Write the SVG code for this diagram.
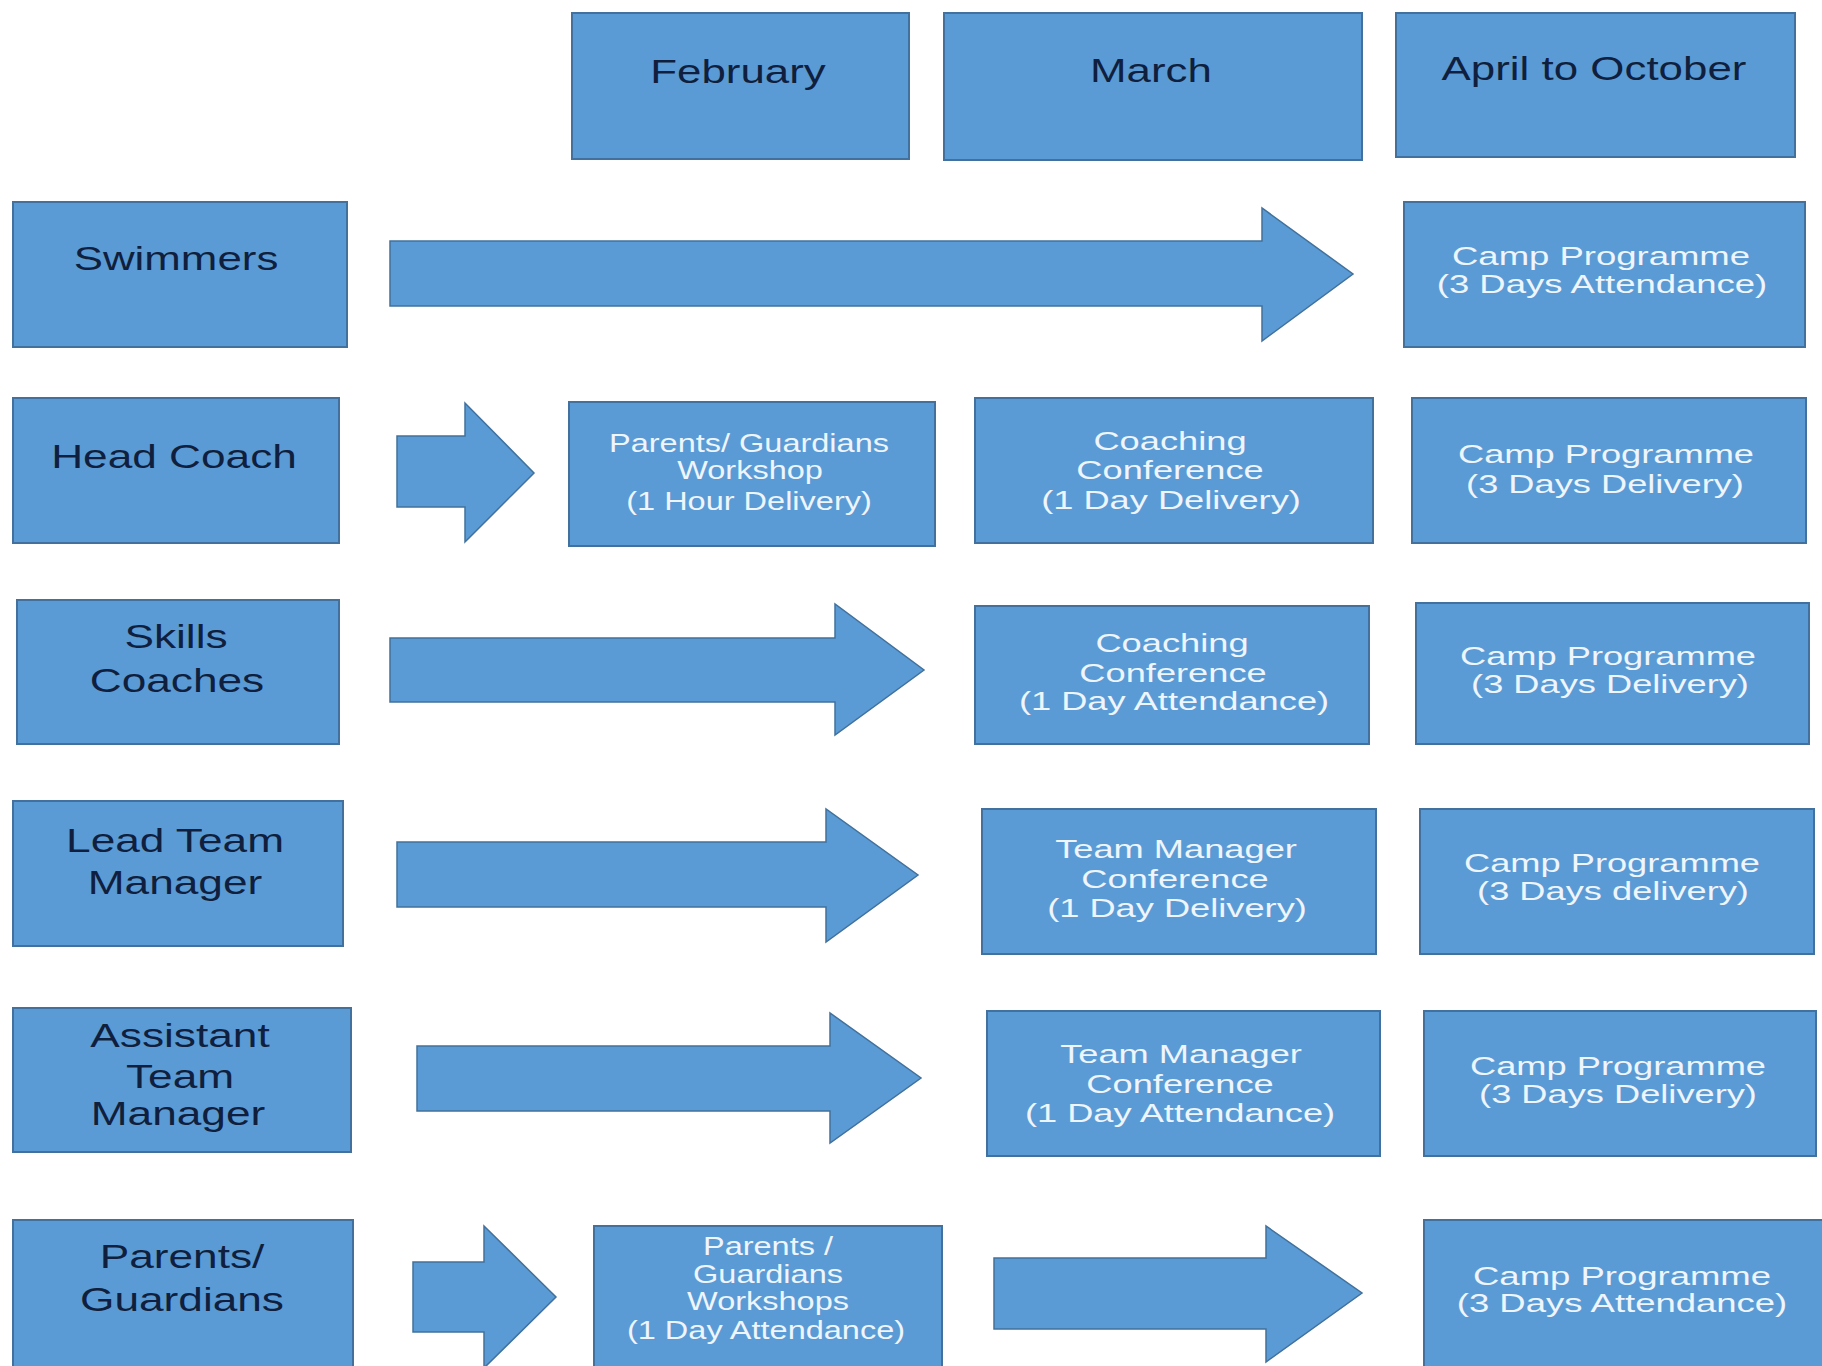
<svg xmlns="http://www.w3.org/2000/svg" width="1822" height="1366" viewBox="0 0 1822 1366">
<defs>
<style>
.box{fill:#5b9bd5;stroke:#41719c;stroke-width:2}
.arr{fill:#5b9bd5;stroke:#41719c;stroke-width:1.5;stroke-linejoin:miter}
.dk{font-family:"Liberation Sans",Arial,sans-serif;font-size:33px;fill:#0f1f3d;text-anchor:middle}
.wt{font-family:"Liberation Sans",Arial,sans-serif;font-size:25px;fill:#eef5fc;text-anchor:middle}
</style>
</defs>
<rect width="1822" height="1366" fill="#ffffff"/>

<g id="connectors">
<polygon class="arr" points="390,241 1262,241 1262,208 1353,274 1262,341 1262,306 390,306"/>
<polygon class="arr" points="397,436 465,436 465,403 534,473 465,542 465,507 397,507"/>
<polygon class="arr" points="390,638 835,638 835,604 924,670 835,735 835,702 390,702"/>
<polygon class="arr" points="397,842 826,842 826,809 918,875 826,942 826,907 397,907"/>
<polygon class="arr" points="417,1046 830,1046 830,1013 921,1078 830,1143 830,1111 417,1111"/>
<polygon class="arr" points="413,1262 484,1262 484,1226 556,1297 484,1368 484,1332 413,1332"/>
<polygon class="arr" points="994,1258 1266,1258 1266,1226 1362,1293 1266,1362 1266,1329 994,1329"/>
</g>

<g id="february">
<rect class="box" x="572" y="13" width="337" height="146"/>
<text class="dk" transform="translate(738,83) scale(1.33,1)">February</text>
</g>
<g id="march">
<rect class="box" x="944" y="13" width="418" height="147"/>
<text class="dk" transform="translate(1151,82) scale(1.33,1)">March</text>
</g>
<g id="april-october">
<rect class="box" x="1396" y="13" width="399" height="144"/>
<text class="dk" transform="translate(1594,80) scale(1.33,1)">April to October</text>
</g>

<g id="swimmers">
<rect class="box" x="13" y="202" width="334" height="145"/>
<text class="dk" transform="translate(176,270) scale(1.33,1)">Swimmers</text>
</g>
<g id="swimmers-camp">
<rect class="box" x="1404" y="202" width="401" height="145"/>
<text class="wt" transform="translate(1601,265) scale(1.46,1)">Camp Programme</text>
<text class="wt" transform="translate(1602,293) scale(1.46,1)">(3 Days Attendance)</text>
</g>

<g id="head-coach">
<rect class="box" x="13" y="398" width="326" height="145"/>
<text class="dk" transform="translate(174,468) scale(1.34,1)">Head Coach</text>
</g>
<g id="head-coach-workshop">
<rect class="box" x="569" y="402" width="366" height="144"/>
<text class="wt" transform="translate(749,452) scale(1.3,1)">Parents/ Guardians</text>
<text class="wt" transform="translate(750,479) scale(1.3,1)">Workshop</text>
<text class="wt" transform="translate(749,510) scale(1.3,1)">(1 Hour Delivery)</text>
</g>
<g id="head-coach-conference">
<rect class="box" x="975" y="398" width="398" height="145"/>
<text class="wt" transform="translate(1170,450) scale(1.45,1)">Coaching</text>
<text class="wt" transform="translate(1170,479) scale(1.45,1)">Conference</text>
<text class="wt" transform="translate(1171,509) scale(1.45,1)">(1 Day Delivery)</text>
</g>
<g id="head-coach-camp">
<rect class="box" x="1412" y="398" width="394" height="145"/>
<text class="wt" transform="translate(1606,463) scale(1.45,1)">Camp Programme</text>
<text class="wt" transform="translate(1605,493) scale(1.45,1)">(3 Days Delivery)</text>
</g>

<g id="skills-coaches">
<rect class="box" x="17" y="600" width="322" height="144"/>
<text class="dk" transform="translate(176,648) scale(1.34,1)">Skills</text>
<text class="dk" transform="translate(177,692) scale(1.34,1)">Coaches</text>
</g>
<g id="skills-conference">
<rect class="box" x="975" y="606" width="394" height="138"/>
<text class="wt" transform="translate(1172,652) scale(1.45,1)">Coaching</text>
<text class="wt" transform="translate(1173,682) scale(1.45,1)">Conference</text>
<text class="wt" transform="translate(1174,710) scale(1.45,1)">(1 Day Attendance)</text>
</g>
<g id="skills-camp">
<rect class="box" x="1416" y="603" width="393" height="141"/>
<text class="wt" transform="translate(1608,665) scale(1.45,1)">Camp Programme</text>
<text class="wt" transform="translate(1610,693) scale(1.45,1)">(3 Days Delivery)</text>
</g>

<g id="lead-team-manager">
<rect class="box" x="13" y="801" width="330" height="145"/>
<text class="dk" transform="translate(175,852) scale(1.34,1)">Lead Team</text>
<text class="dk" transform="translate(175,894) scale(1.34,1)">Manager</text>
</g>
<g id="lead-conference">
<rect class="box" x="982" y="809" width="394" height="145"/>
<text class="wt" transform="translate(1176,858) scale(1.45,1)">Team Manager</text>
<text class="wt" transform="translate(1175,888) scale(1.45,1)">Conference</text>
<text class="wt" transform="translate(1177,917) scale(1.45,1)">(1 Day Delivery)</text>
</g>
<g id="lead-camp">
<rect class="box" x="1420" y="809" width="394" height="145"/>
<text class="wt" transform="translate(1612,872) scale(1.45,1)">Camp Programme</text>
<text class="wt" transform="translate(1613,900) scale(1.45,1)">(3 Days delivery)</text>
</g>

<g id="assistant-team-manager">
<rect class="box" x="13" y="1008" width="338" height="144"/>
<text class="dk" transform="translate(180,1047) scale(1.34,1)">Assistant</text>
<text class="dk" transform="translate(180,1088) scale(1.34,1)">Team</text>
<text class="dk" transform="translate(178,1125) scale(1.34,1)">Manager</text>
</g>
<g id="assistant-conference">
<rect class="box" x="987" y="1011" width="393" height="145"/>
<text class="wt" transform="translate(1181,1063) scale(1.45,1)">Team Manager</text>
<text class="wt" transform="translate(1180,1093) scale(1.45,1)">Conference</text>
<text class="wt" transform="translate(1180,1122) scale(1.45,1)">(1 Day Attendance)</text>
</g>
<g id="assistant-camp">
<rect class="box" x="1424" y="1011" width="392" height="145"/>
<text class="wt" transform="translate(1618,1075) scale(1.45,1)">Camp Programme</text>
<text class="wt" transform="translate(1618,1103) scale(1.45,1)">(3 Days Delivery)</text>
</g>

<g id="parents-guardians">
<rect class="box" x="13" y="1220" width="340" height="150"/>
<text class="dk" transform="translate(182,1268) scale(1.34,1)">Parents/</text>
<text class="dk" transform="translate(182,1311) scale(1.34,1)">Guardians</text>
</g>
<g id="parents-workshops">
<rect class="box" x="594" y="1226" width="348" height="145"/>
<text class="wt" transform="translate(768,1255) scale(1.3,1)">Parents /</text>
<text class="wt" transform="translate(768,1283) scale(1.3,1)">Guardians</text>
<text class="wt" transform="translate(768,1310) scale(1.3,1)">Workshops</text>
<text class="wt" transform="translate(766,1339) scale(1.3,1)">(1 Day Attendance)</text>
</g>
<g id="parents-camp">
<rect class="box" x="1424" y="1220" width="402" height="150"/>
<text class="wt" transform="translate(1622,1285) scale(1.46,1)">Camp Programme</text>
<text class="wt" transform="translate(1622,1312) scale(1.46,1)">(3 Days Attendance)</text>
</g>
</svg>
